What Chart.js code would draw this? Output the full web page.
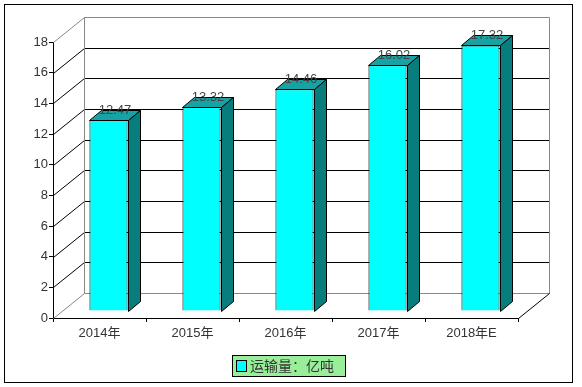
<!DOCTYPE html>
<html>
<head>
<meta charset="utf-8">
<script src="https://cdn.jsdelivr.net/npm/chart.js@4"></script>
<style>
  html, body { margin: 0; padding: 0; background: #fff; }
  #wrap { width: 582px; height: 387px; }
</style>
</head>
<body>
<div id="wrap"><canvas id="yunshuChart"></canvas></div>
<script>
// data
const years = ['2014年', '2015年', '2016年', '2017年', '2018年E'];
const volumes = [12.47, 13.32, 14.46, 16.02, 17.32];
const seriesName = '运输量：亿吨';
const yTicks = [0, 2, 4, 6, 8, 10, 12, 14, 16, 18];

// 3D look: depth of the wall box and of each bar
const WALL_DX = 31, WALL_DY = -25;
const BAR_SHIFT_X = 9, BAR_SHIFT_Y = -7;
const BAR_DX = 12, BAR_DY = -10;
const FONT = "'Liberation Sans', 'Noto Sans CJK SC', sans-serif";

const box3d = {
    id: 'box3d',
    beforeDraw(chart) {
        const ctx = chart.ctx;
        ctx.save();
        ctx.fillStyle = '#fff';
        ctx.fillRect(0, 0, chart.width, chart.height);
        ctx.strokeStyle = '#000';
        ctx.lineWidth = 1;
        ctx.strokeRect(4.5, 4.5, 568, 378);
        ctx.restore();
    },
    beforeDatasetsDraw(chart) {
        const ctx = chart.ctx;
        const a = chart.chartArea;
        const y = chart.scales.y;
        const L = Math.round(a.left) + 0.5, R = Math.round(a.right) + 0.5;
        ctx.save();
        ctx.lineWidth = 1;
        // wall gridlines: diagonal on the left wall, flat on the back wall
        yTicks.forEach((v) => {
            const py = Math.round(y.getPixelForValue(v)) + 0.5;
            const edge = (v === yTicks[0] || v === yTicks[yTicks.length - 1]);
            ctx.strokeStyle = edge ? '#888' : '#000';
            ctx.beginPath();
            ctx.moveTo(L, py);
            ctx.lineTo(L + WALL_DX, py + WALL_DY);
            ctx.lineTo(R + WALL_DX, py + WALL_DY);
            ctx.stroke();
        });
        const top = Math.round(y.getPixelForValue(18)) + 0.5 + WALL_DY;
        const bot = Math.round(y.getPixelForValue(0)) + 0.5;
        // back wall verticals
        ctx.strokeStyle = '#888';
        ctx.beginPath();
        ctx.moveTo(L + WALL_DX, top);
        ctx.lineTo(L + WALL_DX, bot + WALL_DY);
        ctx.moveTo(R + WALL_DX, top);
        ctx.lineTo(R + WALL_DX, bot + WALL_DY);
        ctx.stroke();
        // floor right edge
        ctx.strokeStyle = '#000';
        ctx.beginPath();
        ctx.moveTo(R, bot);
        ctx.lineTo(R + WALL_DX, bot + WALL_DY);
        ctx.stroke();
        ctx.restore();

        // front faces are drawn by Chart.js, pushed into the box a little
        ctx.save();
        ctx.translate(BAR_SHIFT_X, BAR_SHIFT_Y);
    },
    afterDatasetsDraw(chart) {
        const ctx = chart.ctx;
        ctx.restore();
        const meta = chart.getDatasetMeta(0);
        ctx.save();
        ctx.lineWidth = 1;
        ctx.strokeStyle = '#000';
        meta.data.forEach((bar, i) => {
            const p = bar.getProps(['x', 'y', 'base', 'width'], true);
            const l = Math.round(p.x - p.width / 2 + BAR_SHIFT_X) + 0.5;
            const r = Math.round(p.x + p.width / 2 + BAR_SHIFT_X) + 0.5;
            const t = Math.round(p.y + BAR_SHIFT_Y) + 0.5;
            const b = Math.round(p.base + BAR_SHIFT_Y) + 0.5;
            // top face
            ctx.fillStyle = '#17a3a3';
            ctx.beginPath();
            ctx.moveTo(l, t);
            ctx.lineTo(l + BAR_DX, t + BAR_DY);
            ctx.lineTo(r + BAR_DX, t + BAR_DY);
            ctx.lineTo(r, t);
            ctx.closePath();
            ctx.fill();
            ctx.stroke();
            // side face
            ctx.fillStyle = '#077d7d';
            ctx.beginPath();
            ctx.moveTo(r, t);
            ctx.lineTo(r + BAR_DX, t + BAR_DY);
            ctx.lineTo(r + BAR_DX, b + BAR_DY);
            ctx.lineTo(r, b);
            ctx.closePath();
            ctx.fill();
            ctx.stroke();
            // value label
            ctx.fillStyle = '#444';
            ctx.font = '13px ' + FONT;
            ctx.textAlign = 'center';
            ctx.textBaseline = 'middle';
            ctx.fillText(volumes[i].toFixed(2), (l + r) / 2 + BAR_DX / 2, t - 10);
        });
        ctx.restore();
    },
    afterDraw(chart) {
        // legend box
        const ctx = chart.ctx;
        ctx.save();
        ctx.fillStyle = '#99ee99';
        ctx.fillRect(232, 355, 114, 22);
        ctx.strokeStyle = '#000';
        ctx.lineWidth = 1;
        ctx.strokeRect(232.5, 355.5, 113, 21);
        ctx.fillStyle = '#00ffff';
        ctx.fillRect(237, 361, 9, 10);
        ctx.strokeRect(236.5, 360.5, 10, 11);
        ctx.fillStyle = '#333';
        ctx.font = '14px ' + FONT;
        ctx.textAlign = 'left';
        ctx.textBaseline = 'middle';
        ctx.fillText(chart.data.datasets[0].label, 250, 367);
        ctx.restore();
    }
};

const canvas = document.getElementById('yunshuChart');

new Chart(canvas, {
    type: 'bar',
    data: {
        labels: years,
        datasets: [{
            label: seriesName,
            data: volumes,
            backgroundColor: '#00ffff',
            borderColor: '#000',
            borderWidth: 1,
            barPercentage: 0.41,
            categoryPercentage: 1
        }]
    },
    options: {
        responsive: true,
        maintainAspectRatio: false,
        animation: false,
        layout: { padding: { left: 0, top: 42, right: 64, bottom: 0 } },
        plugins: {
            legend: { display: false },
            tooltip: { enabled: false }
        },
        scales: {
            x: {
                afterFit(s) { s.height = 69; },
                grid: { offset: true, drawOnChartArea: false, color: '#000', tickLength: 4 },
                border: { color: '#000' },
                ticks: { color: '#333', font: { size: 13, family: FONT }, padding: 4, maxRotation: 0 }
            },
            y: {
                min: 0,
                max: 18,
                afterFit(s) { s.width = 53; },
                afterBuildTicks(s) { s.ticks = yTicks.map((v) => ({ value: v })); },
                grid: { drawOnChartArea: false, color: '#000', tickLength: 4 },
                border: { color: '#000' },
                ticks: { color: '#333', font: { size: 13, family: FONT }, padding: 1 }
            }
        }
    },
    plugins: [box3d]
});
</script>
</body>
</html>
